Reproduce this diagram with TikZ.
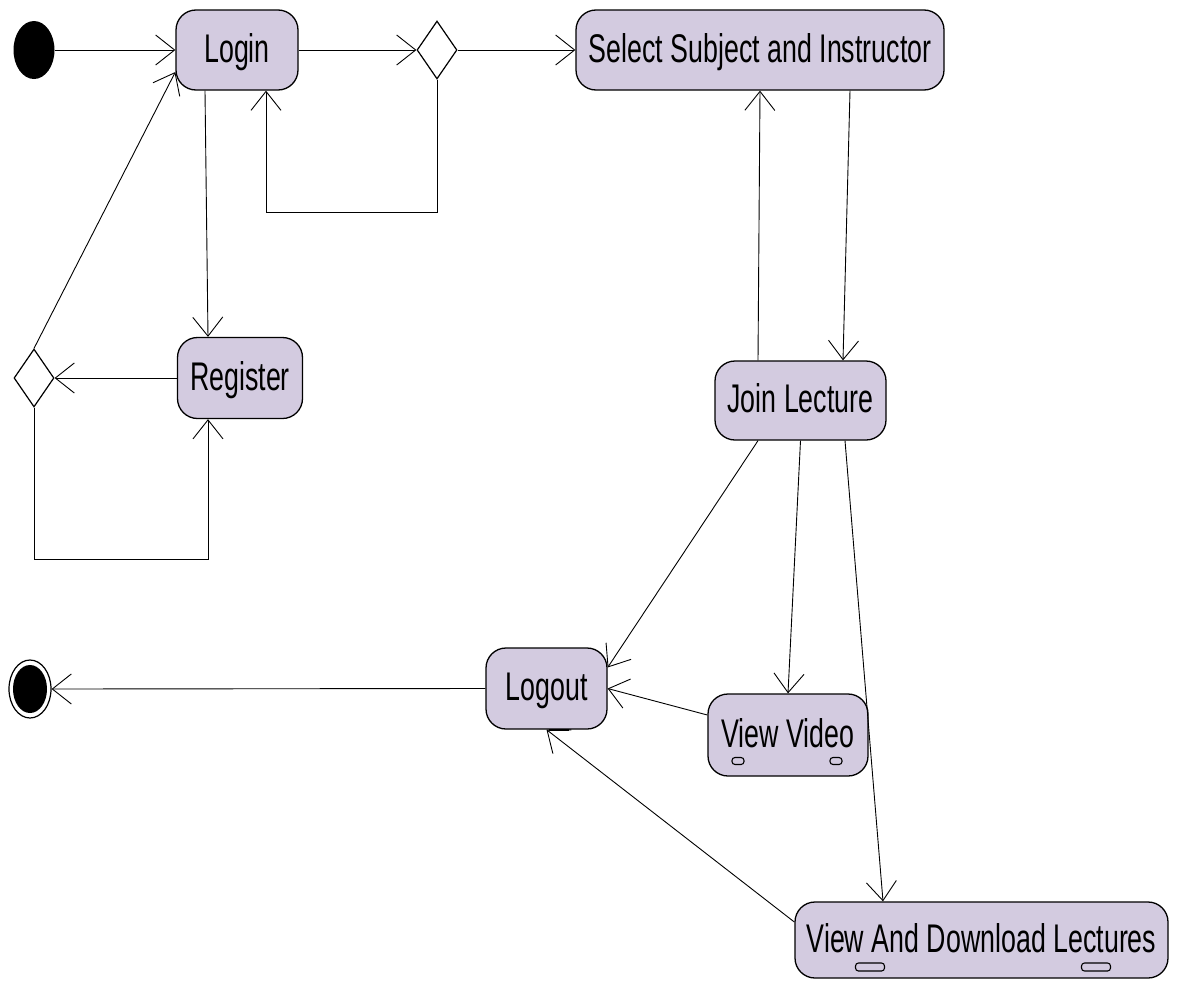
\documentclass[tikz,border=0pt]{standalone}
\usepackage{fontspec}
\setmainfont{Liberation Sans}[FakeStretch=0.67]
\usetikzlibrary{arrows.meta,shapes.geometric}
\definecolor{actfill}{RGB}{211,203,224}
\begin{document}
\begin{tikzpicture}[x=1pt,y=-1pt,
  activity/.style={draw=black, line width=1.3pt, fill=actfill, rounded corners=20pt,
    inner sep=0pt, text height=29pt, text depth=5pt, font=\fontsize{40}{42}\selectfont},
  choice/.style={draw=black, line width=1.2pt, fill=white, shape=diamond,
    inner sep=0pt, minimum width=40pt, minimum height=58pt},
  flow/.style={line width=0.9pt, -{Straight Barb[length=19pt, width=30pt, line width=0.9pt]}},
  slot/.style={draw=black, line width=1.1pt, fill=actfill, rounded corners=3pt}]
  \useasboundingbox (0,0) rectangle (1178,980);

  % initial and final states
  \node (start) [ellipse, fill=black, inner sep=0pt, minimum width=41pt, minimum height=58pt] at (34,50) {};
  \node (final) [ellipse, draw=black, line width=1.2pt, fill=white, inner sep=0pt,
    minimum width=42pt, minimum height=58pt] at (30,689) {};
  \node (finaldot) [ellipse, fill=black, inner sep=0pt, minimum width=34pt, minimum height=48pt] at (30,689) {};

  % activities
  \node (login) [activity, minimum width=122pt, minimum height=80pt] at (237,50) {Login};
  \node (sel) [activity, minimum width=368pt, minimum height=80pt] at (760,50) {Select Subject and Instructor};
  \node (reg) [activity, minimum width=125pt, minimum height=81pt] at (240,378) {Register};
  \node (join) [activity, minimum width=171pt, minimum height=79pt] at (800.5,400.5) {Join Lecture};
  \node (logout) [activity, minimum width=121pt, minimum height=81pt] at (546.5,688.5) {Logout};
  \node (video) [activity, minimum width=160pt, minimum height=82pt] at (788,735) {View Video};
  \node (vdl) [activity, minimum width=373pt, minimum height=76pt] at (981.5,940) {View And Download Lectures};

  % small sub-activity marks
  \node (v1) [slot, minimum width=12pt, minimum height=7pt, inner sep=0pt] at (738,761) {};
  \node (v2) [slot, minimum width=12pt, minimum height=7pt, inner sep=0pt] at (836,761) {};
  \node (d1m) [slot, minimum width=29pt, minimum height=8pt, inner sep=0pt] at (870,967) {};
  \node (d2m) [slot, minimum width=29pt, minimum height=8pt, inner sep=0pt] at (1096,967) {};
  \draw[line width=2.2pt] ([xshift=2pt]logout.south) -- ([xshift=22pt]logout.south);

  % decisions
  \node (d1) [choice] at (437,50) {};
  \node (d2) [choice] at (34,378) {};

  % bend points of the loops
  \coordinate (c1) at (266,212);
  \coordinate (c2) at (208,559);

  % transitions
  \draw[flow] (start.east) -- (login.west);
  \draw[flow] (login.east) -- (d1.west);
  \draw[flow] (d1.east) -- (sel.west);
  \draw[flow] (d1.south) |- (c1) -- ([xshift=29pt]login.south);
  \draw[flow] ([xshift=-32pt]login.south) -- ([xshift=-32pt]reg.north);
  \draw[flow] (reg.west) -- (d2.east);
  \draw[flow] (d2.south) |- (c2) -- ([xshift=-32pt]reg.south);
  \draw[flow] (d2.north) -- ([yshift=-22pt]login.west);
  \draw[flow] ([xshift=90pt]sel.south) -- ([xshift=42.5pt]join.north);
  \draw[flow] ([xshift=-42.5pt]join.north) -- (sel.south);
  \draw[flow] ([xshift=-42.5pt]join.south) -- ([yshift=21pt]logout.east);
  \draw[flow] (join.south) -- (video.north);
  \draw[flow] ([xshift=44.5pt]join.south) -- ([xshift=-98.5pt]vdl.north);
  \draw[flow] ([yshift=20pt]video.west) -- (logout.east);
  \draw[flow] ([yshift=18pt]vdl.west) -- (logout.south);
  \draw[flow] (logout.west) -- (final.east);
\end{tikzpicture}
\end{document}
